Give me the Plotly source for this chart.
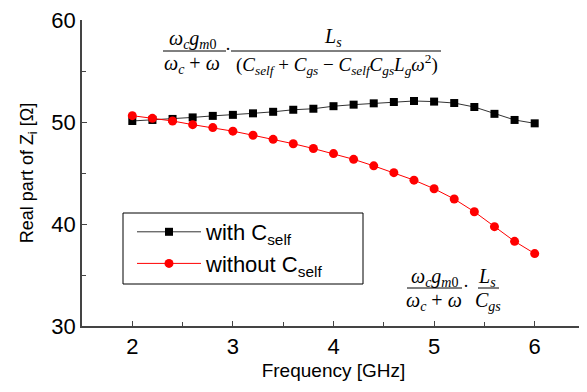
import plotly.graph_objects as go

freq = [2.0, 2.2, 2.4, 2.6, 2.8, 3.0, 3.2, 3.4, 3.6, 3.8, 4.0,
        4.2, 4.4, 4.6, 4.8, 5.0, 5.2, 5.4, 5.6, 5.8, 6.0]
with_cself = [50.1, 50.2, 50.3, 50.45, 50.6, 50.7, 50.85, 51.0, 51.2, 51.3, 51.55,
              51.7, 51.83, 51.96, 52.06, 52.0, 51.86, 51.47, 50.8, 50.2, 49.87]
without_cself = [50.62, 50.36, 50.1, 49.74, 49.45, 49.1, 48.7, 48.3, 47.87, 47.4, 46.9,
                 46.34, 45.7, 45.03, 44.3, 43.46, 42.45, 41.2, 39.74, 38.3, 37.1]
x_ticks = [2, 3, 4, 5, 6]
y_ticks = [30, 40, 50, 60]

# page has an 8px body margin; figure is placed at (8, 8) in the window
OFF = 8
W, H = 587 - OFF, 392 - OFF
L, R, T, B = 82 - OFF, 2, 20 - OFF, 66
PW, PH = W - L - R, H - T - B

def px(x):  # window pixel -> paper fraction
    return (x - OFF - L) / PW

def py(y):
    return (H - B - (y - OFF)) / PH

fig = go.Figure()
fig.add_trace(go.Scatter(x=freq, y=with_cself, mode="lines+markers",
                         name="with C<sub>self</sub>",
                         line=dict(color="#333333", width=1),
                         marker=dict(symbol="square", size=8, color="black")))
fig.add_trace(go.Scatter(x=freq, y=without_cself, mode="lines+markers",
                         name="without C<sub>self</sub>",
                         line=dict(color="red", width=1),
                         marker=dict(symbol="circle", size=9, color="red")))

ann = []
def text(x, y, s, size=20):
    ann.append(dict(xref="paper", yref="paper", x=px(x), y=py(y), text=s,
                    showarrow=False, xanchor="center", yanchor="middle",
                    font=dict(family="Liberation Serif", size=size, color="black")))

shapes = []
def hline(x0, x1, y):
    shapes.append(dict(type="line", xref="paper", yref="paper",
                       x0=px(x0), x1=px(x1), y0=py(y), y1=py(y),
                       line=dict(color="black", width=1)))

# legend frame
shapes.append(dict(type="rect", xref="paper", yref="paper", layer="above",
                   x0=px(123), x1=px(363), y0=py(284), y1=py(213),
                   line=dict(color="black", width=1), fillcolor="white"))

num1 = "<i>ω<sub>c</sub>g<sub>m</sub></i><sub>0</sub>"
den1 = "<i>ω<sub>c</sub></i> + <i>ω</i>"
# Equation 1
text(192, 39, num1)
hline(163, 226, 51)
text(192, 64, den1)
text(228, 49, "·", size=18)
text(333, 37, "<i>L<sub>s</sub></i>")
hline(231, 441, 51)
text(337, 64, "(<i>C<sub>self</sub></i> + <i>C<sub>gs</sub></i> − <i>C<sub>self</sub>C<sub>gs</sub>L<sub>g</sub>ω</i><sup>2</sup>)", size=19)
# Equation 2
text(434, 277, num1)
hline(407, 462, 288)
text(434, 301, den1)
text(466, 286, "·", size=18)
text(487, 277, "<i>L<sub>s</sub></i>")
hline(478, 499, 288)
text(488, 301, "<i>C<sub>gs</sub></i>")

axis_common = dict(showline=True, linecolor="#444444", linewidth=1.5,
                   ticks="inside", ticklen=5, tickcolor="#444444", tickwidth=1,
                   showgrid=False, zeroline=False, mirror=False, automargin=False,
                   ticklabeloverflow="allow",
                   tickfont=dict(family="Liberation Sans", size=22, color="black"))

fig.update_layout(
    width=W, height=H,
    margin=dict(l=L, r=R, t=T, b=B),
    paper_bgcolor="white", plot_bgcolor="white",
    xaxis=dict(range=[1.5, 6.5], tickvals=x_ticks,
               minor=dict(ticks="inside", ticklen=4, dtick=0.5, tickcolor="#444444"),
               title=dict(text="Frequency [GHz]", standoff=6,
                          font=dict(family="Liberation Sans", size=19, color="black")),
               **axis_common),
    yaxis=dict(range=[30, 60], tickvals=y_ticks,
               minor=dict(ticks="inside", ticklen=4, dtick=5, tickcolor="#444444"),
               title=dict(text="Real part of Z<sub>i</sub> [Ω]", standoff=13,
                          font=dict(family="Liberation Sans", size=18, color="black")),
               **axis_common),
    legend=dict(x=px(132), y=py(211), xanchor="left", yanchor="top",
                borderwidth=0, bgcolor="rgba(0,0,0,0)",
                itemwidth=64, tracegroupgap=0,
                font=dict(family="Liberation Sans", size=22, color="black")),
    annotations=ann, shapes=shapes,
    showlegend=True,
)

fig.write_html("out.html")
